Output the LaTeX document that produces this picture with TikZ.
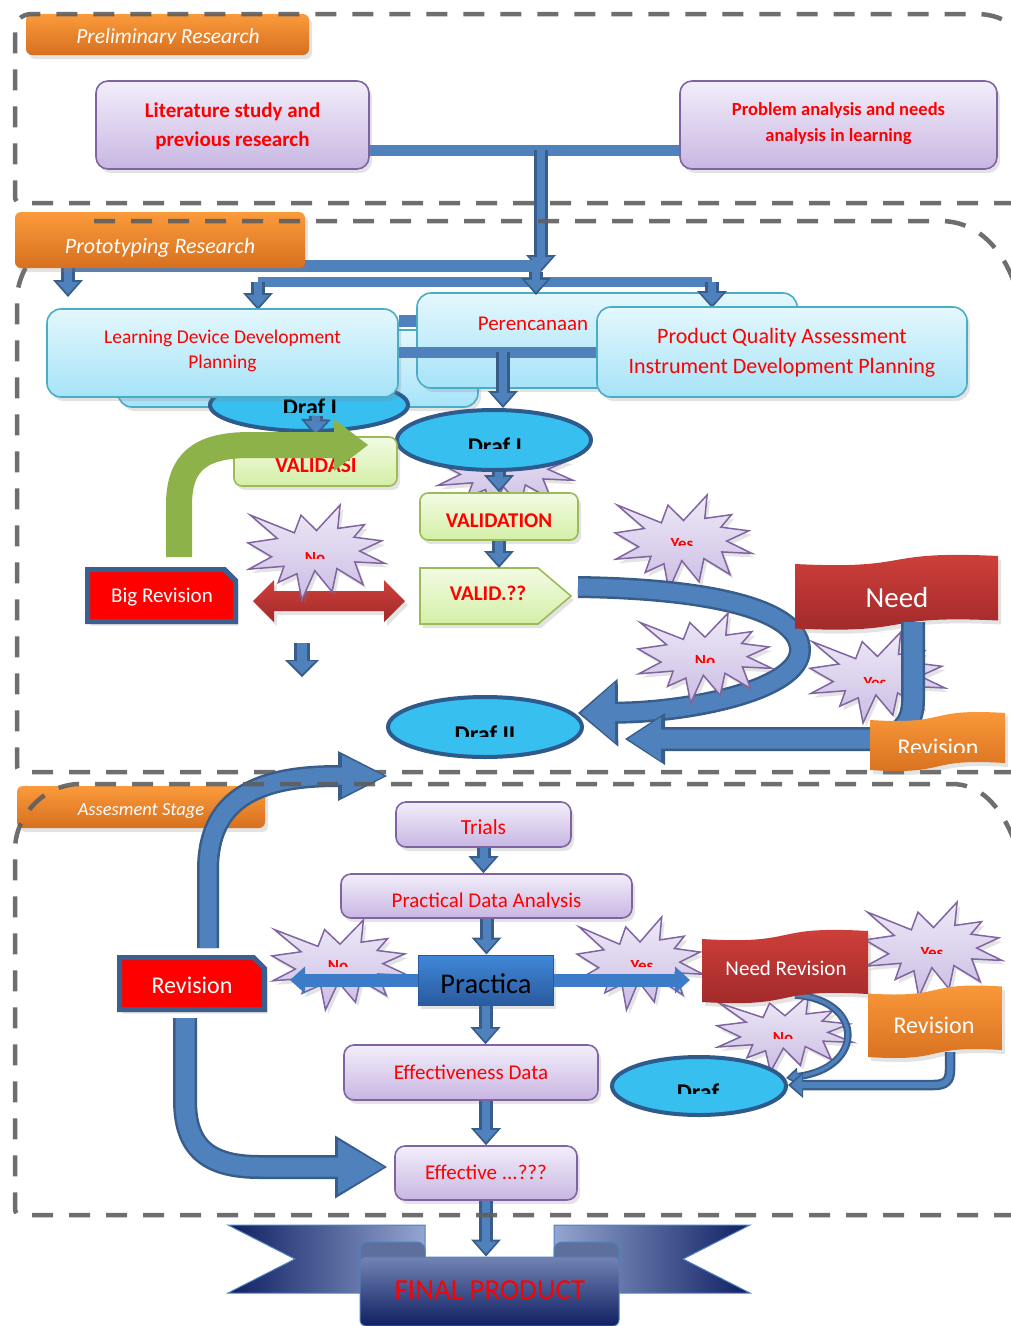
\documentclass[tikz,border=0pt]{standalone}
\usepackage{fontspec}
\setmainfont{Carlito}
\usetikzlibrary{arrows.meta,shapes.geometric,shadows}
\definecolor{blueA}{HTML}{4F81BD}
\definecolor{blueD}{HTML}{385D8A}
\definecolor{purpB}{HTML}{8064A2}
\definecolor{purpT}{HTML}{F2EEFA}
\definecolor{purpL}{HTML}{C8B6E2}
\definecolor{cyanT}{HTML}{E4F7FD}
\definecolor{cyanL}{HTML}{A6E3F8}
\definecolor{cyanB}{HTML}{4BACC6}
\definecolor{grnT}{HTML}{F2FBE4}
\definecolor{grnL}{HTML}{D4EFA6}
\definecolor{grnB}{HTML}{9BBB59}
\definecolor{grnA}{HTML}{8DB24A}
\definecolor{orT}{HTML}{FB9A3B}
\definecolor{orL}{HTML}{D7701F}
\definecolor{redT}{HTML}{D0403B}
\definecolor{redL}{HTML}{A0292A}
\definecolor{ellF}{HTML}{37BFF0}
\definecolor{ellB}{HTML}{2E5A8C}
\definecolor{starT}{HTML}{EEEAF7}
\definecolor{starL}{HTML}{CBBCE3}
\definecolor{frameC}{HTML}{5E5E5E}
\definecolor{navy}{HTML}{0F1F62}
\definecolor{navyL}{HTML}{93A5D0}
\definecolor{pracT}{HTML}{4088D8}
\definecolor{pracL}{HTML}{295A9E}
\definecolor{revB}{HTML}{3B5F8E}
\definecolor{arrR}{HTML}{3C7BC8}
\definecolor{curlC}{HTML}{5F6F9C}
\newcommand\fsz[1]{\fontsize{#1}{#1}\selectfont}
\newcommand\cuttext[6]{\begin{scope}\clip ({#3-200},{#4-60}) rectangle ({#3+200},{#5});\node[lbl,#2] (#1) at (#3,#4) {#6};\end{scope}}
\newcommand\mystar[4]{\draw[starsty,shift={(#1,#2)},xscale=#3/100,yscale=#4/100] (50,26.85) -- (67.23,0) -- (65.53,24.65) -- (85.09,20.63) -- (77.32,33.87) -- (97.67,37.67) -- (81.51,48.5) -- (100,61.53) -- (77.95,59.92) -- (84,83.77) -- (64.91,66.93) -- (61.33,91.38) -- (48.76,69.14) -- (39.28,100) -- (35.72,72.35) -- (22.05,81.56) -- (26.24,64.52) -- (0.63,67.53) -- (17.23,54.51) -- (0,39.88) -- (21.42,35.26) -- (1.71,10.63) -- (33.85,29.26) -- (38.67,10.63) -- cycle;}
\newcommand\wavepath[6]{\path[#6] (#1,{#2+#5}) .. controls ({#1+0.6*(#3-#1)},{#2+2.5*#5}) and ({#1+0.4*(#3-#1)},{#2-2.5*#5}) .. (#3,{#2-#5}) -- (#3,{#4-#5}) .. controls ({#1+0.4*(#3-#1)},{#4-2.5*#5}) and ({#1+0.6*(#3-#1)},{#4+2.5*#5}) .. (#1,{#4+#5}) -- cycle;}
% snipped-corner box: x1 y1 x2 y2
\newcommand\snipbox[4]{\path[snipsty] (#1,#2) -- ({#3-11},#2) -- (#3,{#2+11}) -- (#3,#4) -- (#1,#4) -- cycle;}
\tikzset{
 lbl/.style={inner sep=0pt,anchor=base},
 shad/.style={drop shadow={opacity=0.22,shadow xshift=3pt,shadow yshift=-4pt}},
 purpbox/.style={rectangle,rounded corners=12pt,draw=purpB,line width=1.6pt,top color=purpT,bottom color=purpL,inner sep=0pt,shad},
 cyanbox/.style={rectangle,rounded corners=14pt,draw=cyanB,line width=1.6pt,top color=cyanT,bottom color=cyanL,inner sep=0pt,shad},
 grnbox/.style={rectangle,rounded corners=8pt,draw=grnB,line width=1.6pt,top color=grnT,bottom color=grnL,inner sep=0pt,shad},
 validsty/.style={draw=grnB,line width=1.6pt,top color=grnT,bottom color=grnL,shad},
 tab/.style={rectangle,rounded corners=6pt,top color=orT,bottom color=orL,inner sep=0pt,shad},
 tabtxt/.style={text=white,font=\fsz{21.5}\itshape},
 ell/.style={ellipse,draw=ellB,line width=4pt,fill=ellF,inner sep=0pt},
 snipsty/.style={fill=red,draw=revB,line width=5pt,line join=miter,shad},
 holder/.style={rectangle,inner sep=0pt,draw=none},
 prac/.style={rectangle,top color=pracT,bottom color=pracL,draw=pracL,line width=1pt,inner sep=0pt,shad},
 starsty/.style={draw=purpB,line width=1.5pt,top color=starT,bottom color=starL,shad},
 redban/.style={top color=redT,bottom color=redL,shad},
 orban/.style={top color=orT,bottom color=orL,shad},
 rr/.style={text=red},
 dr/.style={text=black,font=\fsz{24}\bfseries},
 sr/.style={text=red,font=\fsz{17}\bfseries},
 wt/.style={text=white},
 bar/.style={draw=blueA,line width=11pt},
 sarrow/.style={preaction={draw=blueD,line width=14pt,-{Triangle[width=30pt,length=17pt,line width=0pt]},shorten >=0pt},draw=blueA,line width=8pt,-{Triangle[width=22pt,length=12pt,line width=0pt]},shorten >=3pt},
 barrow/.style n args={6}{preaction={draw=blueD,line width=#4,-{Triangle[width=#5,length=#6,line width=0pt]},shorten >=0pt},draw=blueA,line width=#1,-{Triangle[width=#2,length=#3,line width=0pt]},shorten >=3pt},
 garrow/.style={draw=grnA,line width=26pt,-{Triangle[width=52pt,length=34pt,line width=0pt]}},
 parrow/.style={draw=arrR,line width=13pt,-{Triangle[width=27pt,length=15pt,line width=0pt]}},
 redarr/.style={top color=redT,bottom color=redL,shad},
 fr/.style={draw=frameC,line width=4.5pt,dash pattern=on 21pt off 16pt,opacity=0.9},
}
\begin{document}
\begin{tikzpicture}[x=1pt,y=-1pt]
\useasboundingbox (0,0) rectangle (1010,1326);
% ---------- Preliminary connectors
\coordinate (pbL) at (369,150);
\coordinate (pbR) at (680,150);
\coordinate (pbM) at (541,150);
\coordinate (hubA) at (541,272);
\draw[bar] (pbL) -- (pbR);
\draw[sarrow] (pbM) -- (hubA);
% ---------- distribution bars
\coordinate (aL) at (68,266);
\coordinate (aR) at (541,266);
\coordinate (bL) at (258,282);
\coordinate (bM) at (536,272);
\coordinate (bR) at (712,282);
\coordinate (aLe) at (68,297);
\coordinate (bLe) at (258,310);
\coordinate (bMe) at (536,295);
\coordinate (bRe) at (712,308);
\draw[bar,line width=12pt] (aL) -- (aR);
\draw[bar,line width=10pt] (bL) -- (bR);
\draw[sarrow] (aL) -- (aLe);
\draw[sarrow] (bL) -- (bLe);
% ---------- lower part of the prototyping frame (under its tab)
\draw[fr] (1015,772) -- (24,772) .. controls (19,772) and (17,770) .. (17,765) -- (17,300) .. controls (17,262) and (55,221) .. (105,221);
% ---------- tabs
\node[tab,minimum width=283pt,minimum height=41pt] (tabP) at (167.5,34.5) {};
\cuttext{tabPt}{tabtxt}{168}{43.5}{43.5}{Preliminary Research}
\node[tab,minimum width=290pt,minimum height=56pt] (tabR) at (160,240) {};
\node[lbl,tabtxt,font=\fsz{22}\itshape] (tabRt) at (160,253) {Prototyping Research};
% ---------- Preliminary boxes
\node[purpbox,minimum width=273pt,minimum height=88pt] (lit) at (232.5,125) {};
\node[lbl,text=red,font=\fsz{21}\bfseries] (lit1) at (232.5,117) {Literature study and};
\node[lbl,text=red,font=\fsz{21}\bfseries] (lit2) at (232.5,146) {previous research};
\node[purpbox,minimum width=317pt,minimum height=88pt] (prob) at (838.5,125) {};
\node[lbl,text=red,font=\fsz{18.5}\bfseries] (prob1) at (838.5,115) {Problem analysis and needs};
\node[lbl,text=red,font=\fsz{18.5}\bfseries] (prob2) at (838.5,141) {analysis in learning};
% ---------- planning boxes
\node[cyanbox,minimum width=360pt,minimum height=77pt] (hid) at (298,368.5) {};
\node[cyanbox,minimum width=380pt,minimum height=95pt] (pere) at (607,340.5) {};
\node[lbl,text=red,font=\fsz{21}] (peret) at (533,330) {Perencanaan};
\draw[sarrow] (bM) -- (bMe);
\draw[sarrow] (bR) -- (bRe);
\node[ell,minimum width=198pt,minimum height=52pt] (d1a) at (309,405) {};
\cuttext{d1at}{dr}{310}{415.5}{412}{Draf I}
\node[cyanbox,minimum width=351pt,minimum height=88pt] (learn) at (222.5,353) {};
\node[lbl,text=red,font=\fsz{19.5}] (learn1) at (222.5,343) {Learning Device Development};
\node[lbl,text=red,font=\fsz{19.5}] (learn2) at (222.5,368) {Planning};
\node[cyanbox,minimum width=370pt,minimum height=90pt] (prod) at (782,352) {};
\node[lbl,text=red,font=\fsz{22}] (prod1) at (782,343) {Product Quality Assessment};
\node[lbl,text=red,font=\fsz{22}] (prod2) at (782,373) {Instrument Development Planning};
\coordinate (r321) at (0,321);
\coordinate (r352) at (0,352);
\draw[bar,line width=12pt] (learn.east |- r321) -- (pere.west |- r321);
\draw[bar,line width=11pt] (learn.east |- r352) -- (prod.west |- r352);
% ---------- Draf I (2) and validation
\mystar{437}{428}{136}{85}
\node[ell,minimum width=194pt,minimum height=60pt] (d1b) at (494,440) {};
\cuttext{d1bt}{dr}{495}{454}{448}{Draf I}
\coordinate (c503) at (503,352);
\draw[sarrow] (c503) -- (c503 |- d1b.north);
\node[grnbox,minimum width=158pt,minimum height=47pt] (valn) at (499,516.5) {};
\node[lbl,text=red,font=\fsz{21}\bfseries] (valnt) at (499,527) {VALIDATION};
\draw[sarrow] (valn.north |- d1b.south) -- (valn.north);
\coordinate (vs1) at (316,416);
\node[grnbox,minimum width=163pt,minimum height=49pt] (vasi) at (315.5,461.5) {};
\node[lbl,text=red,font=\fsz{21.5}\bfseries] (vasit) at (316,472) {VALIDASI};
\draw[sarrow] (vs1) -- (vasi.north);
\coordinate (g1) at (179,557);
\coordinate (g2) at (368,445);
\draw[garrow] (g1) -- (179,505) .. controls (179,462) and (200,445) .. (250,445) -- (g2);
\coordinate (vtop) at (497,568);
\path[validsty] (420,568) -- (538,568) -- (571,596) -- (538,624) -- (420,624) -- cycle;
\node[lbl,text=red,font=\fsz{21}\bfseries] (validt) at (488,600) {VALID.??};
\draw[sarrow] (valn.south) -- (valn.south |- vtop);
% ---------- big revision
\snipbox{87.5}{569.5}{235.5}{621.5}
\node[holder,minimum width=148pt,minimum height=52pt] (bigrev) at (161.5,595.5) {};
\node[lbl,text=white,font=\fsz{21}] (bigrevt) at (162,602) {Big Revision};
\path[redarr] (253,601) -- (274,580) -- (274,591) -- (384,591) -- (384,580) -- (405,601) -- (384,622) -- (384,611) -- (274,611) -- (274,622) -- cycle;
\mystar{248}{505}{137}{95}
\cuttext{no1}{sr}{315}{563}{558}{No}
\coordinate (oA) at (302,643);
\coordinate (oB) at (302,677);
\draw[barrow={10pt}{26pt}{13pt}{16pt}{34pt}{17pt}] (oA) -- (oB);
% ---------- yes / no loop to Draf II
\mystar{615}{495}{137}{95}
\cuttext{yes1}{sr}{682}{549}{545}{Yes}
\node[ell,minimum width=194pt,minimum height=60pt] (d2) at (485,727) {};
\cuttext{d2t}{dr}{485}{742.5}{736}{Draf II}
\coordinate (vc1) at (578,587);
\coordinate (vc2) at (578,713);
\draw[barrow={17pt}{60pt}{34pt}{22pt}{68pt}{40pt}] (vc1) .. controls (720,589) and (800,612) .. (800,650) .. controls (800,690) and (690,712) .. (vc2);
\mystar{638}{613}{134}{90}
\cuttext{no2}{sr}{705}{666}{662}{No}
\wavepath{795}{560}{998}{624.5}{4}{redban}
\node[lbl,text=white,font=\fsz{29}] (needt) at (897,607) {Need};
\mystar{810}{632}{135}{91}
\cuttext{yes2}{sr}{875}{688}{682}{Yes}
\coordinate (nl1) at (913,622);
\coordinate (nl2) at (625,739);
\draw[barrow={19pt}{44pt}{33pt}{24pt}{52pt}{40pt}] (nl1) -- (913,700) .. controls (913,726) and (898,739) .. (872,739) -- (nl2);
\wavepath{870}{716.5}{1005}{766.5}{3.5}{orban}
\cuttext{rev1t}{wt,font=\fsz{24}}{938}{755.5}{752}{Revision}
% ---------- Assessment stage
\node[tab,minimum width=248pt,minimum height=42pt] (tabA) at (141,807) {};
\cuttext{tabAt}{tabtxt,font=\fsz{18.5}\itshape}{141}{815}{817}{Assesment Stage}
\snipbox{119.5}{957.5}{264.5}{1009.5}
\node[holder,minimum width=145pt,minimum height=52pt] (rev2) at (192,983.5) {};
\node[lbl,text=white,font=\fsz{24}] (rev2t) at (192,993) {Revision};
\coordinate (ra1) at (208,948);
\coordinate (ra2) at (387,776);
\draw[barrow={17pt}{42pt}{42pt}{22pt}{50pt}{49pt}] (ra1) -- (208,870) .. controls (208,800) and (255,776) .. (338,776) -- (ra2);
\node[purpbox,rounded corners=10pt,minimum width=175pt,minimum height=45pt] (tri) at (483.5,824.5) {};
\node[lbl,text=red,font=\fsz{21.5}] (trit) at (483.5,834) {Trials};
\node[purpbox,rounded corners=10pt,minimum width=291pt,minimum height=44pt] (pda) at (486.5,896) {};
\cuttext{pdat}{rr,font=\fsz{21}}{486.5}{907}{907.5}{Practical Data Analysis}
\draw[sarrow] (tri.south) -- (tri.south |- pda.north);
\mystar{272}{920}{136}{90}
\cuttext{no3}{sr}{338}{971}{966}{No}
\mystar{577}{917}{126}{93}
\cuttext{yes3}{sr}{642}{971}{966}{Yes}
\node[prac,minimum width=135pt,minimum height=50pt] (prac) at (485.5,980) {};
\node[lbl,text=black,font=\fsz{28.5}] (pract) at (486,993) {Practica};
\draw[sarrow] (pda.south) -- (pda.south |- prac.north);
\coordinate (pl) at (290,980);
\coordinate (pr) at (690,980);
\draw[parrow] (prac.west) -- (pl);
\draw[parrow] (prac.east) -- (pr);
\mystar{865}{902}{137}{95}
\cuttext{yes4}{sr}{932}{958}{953}{Yes}
\mystar{717}{995}{136}{77}
\cuttext{no4}{sr}{783}{1043}{1038}{No}
\node[ell,minimum width=174pt,minimum height=58pt] (d3) at (699,1086) {};
\cuttext{d3t}{dr}{698}{1100.5}{1093}{Draf}
\coordinate (tc1) at (795,995);
\coordinate (tc2) at (786,1078);
\draw[barrow={3.5pt}{12pt}{8pt}{7.5pt}{18pt}{12pt}] (tc1) .. controls (865,1000) and (865,1068) .. (tc2);
\wavepath{702}{935}{868}{998}{4}{redban}
\node[lbl,text=white,font=\fsz{21}] (nrt) at (786,975) {Need Revision};
\wavepath{868}{990}{1002}{1053.5}{3.5}{orban}
\node[lbl,text=white,font=\fsz{24}] (rev3t) at (934,1033) {Revision};
\coordinate (oc1) at (950,1052);
\coordinate (oc2) at (788,1085);
\draw[barrow={6pt}{20pt}{11pt}{10.5pt}{26pt}{15pt}] (oc1) -- (950,1070) .. controls (950,1081) and (945,1085) .. (934,1085) -- (oc2);
\node[purpbox,rounded corners=10pt,minimum width=254pt,minimum height=55pt] (effd) at (471,1072.5) {};
\node[lbl,text=red,font=\fsz{21}] (effdt) at (471,1079) {Effectiveness Data};
\draw[sarrow] (prac.south) -- (prac.south |- effd.north);
\node[purpbox,rounded corners=10pt,minimum width=182pt,minimum height=54pt] (eff) at (486,1173) {};
\node[lbl,text=red,font=\fsz{21}] (efft) at (486,1179) {Effective ...???};
\draw[sarrow] (eff.north |- effd.south) -- (eff.north);
\coordinate (u1) at (185,1018);
\coordinate (u2) at (387,1167);
\draw[barrow={19pt}{54pt}{46pt}{24pt}{63pt}{52pt}] (u1) -- (185,1100) .. controls (185,1148) and (208,1167) .. (260,1167) -- (u2);
% ---------- final product ribbon
\path[left color=navy,right color=navyL,draw=blueA,line width=1pt] (228,1225) -- (425,1225) -- (425,1293) -- (228,1293) -- (295,1259) -- cycle;
\path[left color=navyL,right color=navy,draw=blueA,line width=1pt] (750,1225) -- (554,1225) -- (554,1293) -- (750,1293) -- (683,1259) -- cycle;
\path[fill=curlC,draw=blueA,line width=1pt,rounded corners=8pt] (360,1262) -- (360,1242) -- (425,1242) -- (425,1262);
\path[fill=curlC,draw=blueA,line width=1pt,rounded corners=8pt] (554,1262) -- (554,1242) -- (619,1242) -- (619,1262);
\node[rectangle,rounded corners=6pt,top color=navyL!75!navy,bottom color=navy,draw=blueA,line width=1pt,minimum width=259pt,minimum height=69pt,inner sep=0pt] (fin) at (489.5,1291.5) {};
\node[lbl,text=red,font=\fsz{29}] (fint) at (490,1299) {FINAL PRODUCT};
\draw[sarrow] (eff.south) -- (eff.south |- fin.north);
% ---------- dashed frames
\draw[fr] (1015,203) -- (22,203) .. controls (17,203) and (15,201) .. (15,196) -- (15,32) .. controls (15,21) and (21,14) .. (32,14) -- (975,14) .. controls (992,14) and (1003,18) .. (1016,28);
\draw[fr] (94,221) -- (940,221) .. controls (975,221) and (1000,245) .. (1014,282);
\draw[fr] (1015,1215) -- (22,1215) .. controls (17,1215) and (15,1213) .. (15,1208) -- (15,850) .. controls (15,815) and (45,784) .. (80,784) -- (952,784) .. controls (980,784) and (1000,805) .. (1014,840);
\end{tikzpicture}
\end{document}
